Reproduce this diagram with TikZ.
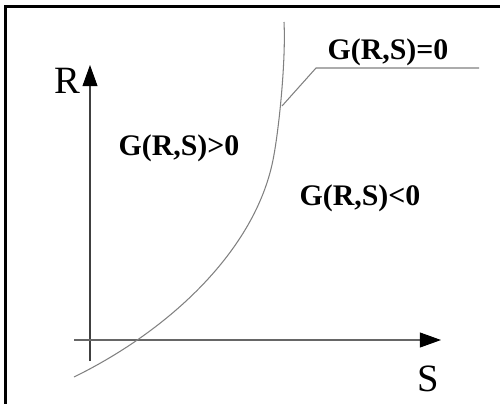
\documentclass[tikz,border=0pt]{standalone}
\usepackage{fontspec}
\setmainfont{Liberation Serif}
\usetikzlibrary{arrows.meta}
\tikzset{
    region/.style={font=\fontsize{17}{20}\selectfont\bfseries, inner sep=0pt},
    axislabel/.style={font=\fontsize{22}{24}\selectfont, inner sep=0pt},
    axis/.style={line width=0.6pt, black!75, -{Triangle[length=12pt,width=8.5pt,color=black]}},
}
\begin{document}
\begin{tikzpicture}[x=0.02cm, y=-0.02cm]
    \useasboundingbox (0,0) rectangle (500,403);
    % frame (only left and top edges show)
    \draw[line width=1.7pt] (5.5,430) |- (530,6.5);
    % axes
    \coordinate (ybot) at (90,361);
    \coordinate (ytop) at (90,65);
    \coordinate (xleft) at (74,340);
    \coordinate (xright) at (441,340);
    \draw[axis] (ybot) -- (ytop);
    \draw[axis, black!60] (xleft) -- (xright);
    \node[axislabel] (R) at (67,81) {R};
    \node[axislabel] (S) at (428,379) {S};
    % limit state curve G(R,S)=0
    \draw[gray, line width=0.6pt] (74,377) .. controls (170,330) and (255,250) .. (273,160)
        .. controls (279,130) and (286,60) .. (284,22);
    % regions
    \node[region] (safe) at (179,148) {G(R,S)>0};
    \node[region] (fail) at (360,198) {G(R,S)<0};
    \node[region] (limit) at (388,52) {G(R,S)=0};
    % leader from curve to label
    \coordinate (oncurve) at (282,106);
    \coordinate (bend) at (316,68);
    \coordinate (lineend) at (479,68);
    \draw[gray, line width=0.6pt] (oncurve) -- (bend) -- (lineend);
\end{tikzpicture}
\end{document}
